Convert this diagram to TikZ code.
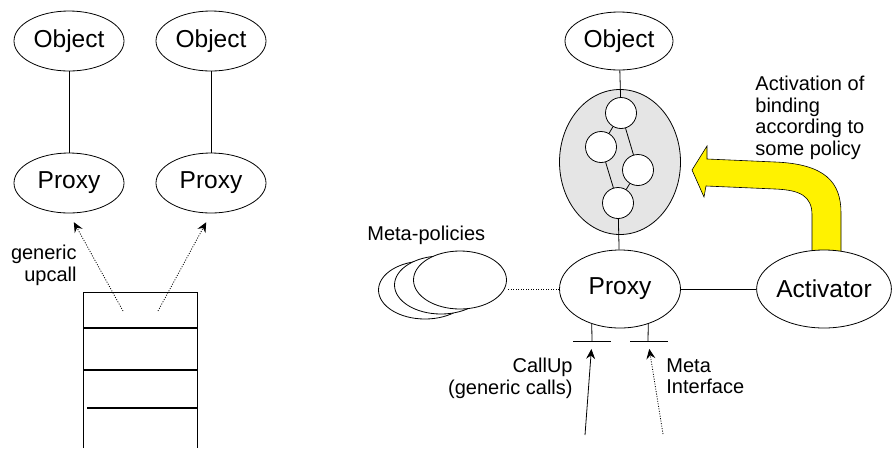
\documentclass[tikz,border=0pt]{standalone}
\usepackage{fontspec}
\setmainfont{Liberation Sans}
\usetikzlibrary{shapes.geometric,arrows.meta}

\begin{document}
\begin{tikzpicture}[x=1pt,y=-1pt,line width=0.8pt,
	obj/.style={draw, ellipse, fill=white, inner sep=0pt, minimum width=110pt, minimum height=60pt, font=\fontsize{24.5}{28}\selectfont},
	wide/.style={obj, minimum width=121pt, minimum height=78pt},
	pol/.style={draw, ellipse, fill=white, minimum width=93pt, minimum height=58pt},
	ring/.style={draw, circle, fill=white, inner sep=0pt, minimum size=31pt},
	lbl/.style={inner sep=0pt, font=\fontsize{20}{21.5}\selectfont},
	dotline/.style={dash pattern=on 1pt off 1.5pt},
	upcall/.style={-{Stealth[length=10pt,width=9pt,inset=3.5pt]}}]
	\useasboundingbox (0,0) rectangle (896,448);

	% left: two objects over one stack
	\node[obj] (obj1) at (69,41) {Object};
	\node[obj] (obj2) at (211,41) {Object};
	\node[obj] (prx1) at (69,183) {Proxy};
	\node[obj] (prx2) at (211,183) {Proxy};
	\draw (obj1) -- (prx1);
	\draw (obj2) -- (prx2);
	\draw (83,448) -- (83,292) -- (197,292) -- (197,448);
	\draw[line width=2pt] (83,328) -- (197,328);
	\draw[line width=1.5pt] (83,370) -- (197,370);
	\draw[line width=1.5pt] (87,408) -- (197,408);
	\coordinate (up1) at (123,311);
	\coordinate (up2) at (158,311);
	\draw[upcall, dotline, shorten >=10pt] (up1) -- (prx1.south);
	\draw[upcall, dotline, shorten >=10pt] (up2) -- (prx2.south);
	\node[lbl, anchor=north east, align=right] (gen) at (77,245) {generic\\upcall};

	% right: binding activated by the activator
	\filldraw[fill=yellow, line width=0.6pt] (812,262) -- (812,215)
		.. controls (812,196) and (800,190) .. (775,189) -- (706,186) -- (704,197)
		-- (692,170) -- (707,146) -- (707,159) -- (775,162)
		.. controls (825,164) and (841,182) .. (841,213) -- (841,262);
	\node[obj, minimum width=108pt, minimum height=58pt] (obj3) at (619,41) {Object};
	\node[draw, ellipse, fill=black!10, minimum width=121pt, minimum height=145pt] (bind) at (620,162) {};
	\node[ring] (c1) at (621,113) {};
	\node[ring] (c2) at (601,147) {};
	\node[ring] (c3) at (638,170) {};
	\node[ring] (c4) at (618,203) {};
	\node[wide] (prx3) at (620,289) {Proxy};
	\node[wide] (act) at (824,289) {Activator};
	\node[pol] (pol1) at (425,290) {};
	\node[pol] (pol2) at (441,285) {};
	\node[pol] (pol3) at (460,280) {};
	\draw (obj3) -- (c1);
	\draw (c1) -- (c2) (c1) -- (c3) (c2) -- (c4) (c3) -- (c4);
	\draw (c4) -- (prx3);
	\draw (prx3) -- (act);
	\draw[dotline] (prx3.west) -- (prx3.west -| pol3.east);
	\node[lbl, anchor=north west] (meta) at (367,226) {Meta-policies};
	\node[lbl, anchor=north west, align=left] (actxt) at (755,76) {Activation of\\binding\\according to\\some policy};

	% interfaces under the proxy
	\coordinate (cu) at (592,341);
	\coordinate (mi) at (648,341);
	\draw (prx3.231) -- (cu);
	\draw (prx3.309) -- (mi);
	\draw ([xshift=-19pt]cu) -- ([xshift=19pt]cu);
	\draw ([xshift=-18pt]mi) -- ([xshift=20pt]mi);
	\coordinate (cs) at (585,435);
	\coordinate (ms) at (663,434);
	\draw[upcall, shorten >=8pt] (cs) -- (cu);
	\draw[upcall, dotline, shorten >=8pt] (ms) -- (mi);
	\node[lbl, anchor=north east, align=right] (cutxt) at (573,358) {CallUp\\(generic calls)};
	\node[lbl, anchor=north west, align=left] (mitxt) at (666,358) {Meta\\Interface};
\end{tikzpicture}
\end{document}
